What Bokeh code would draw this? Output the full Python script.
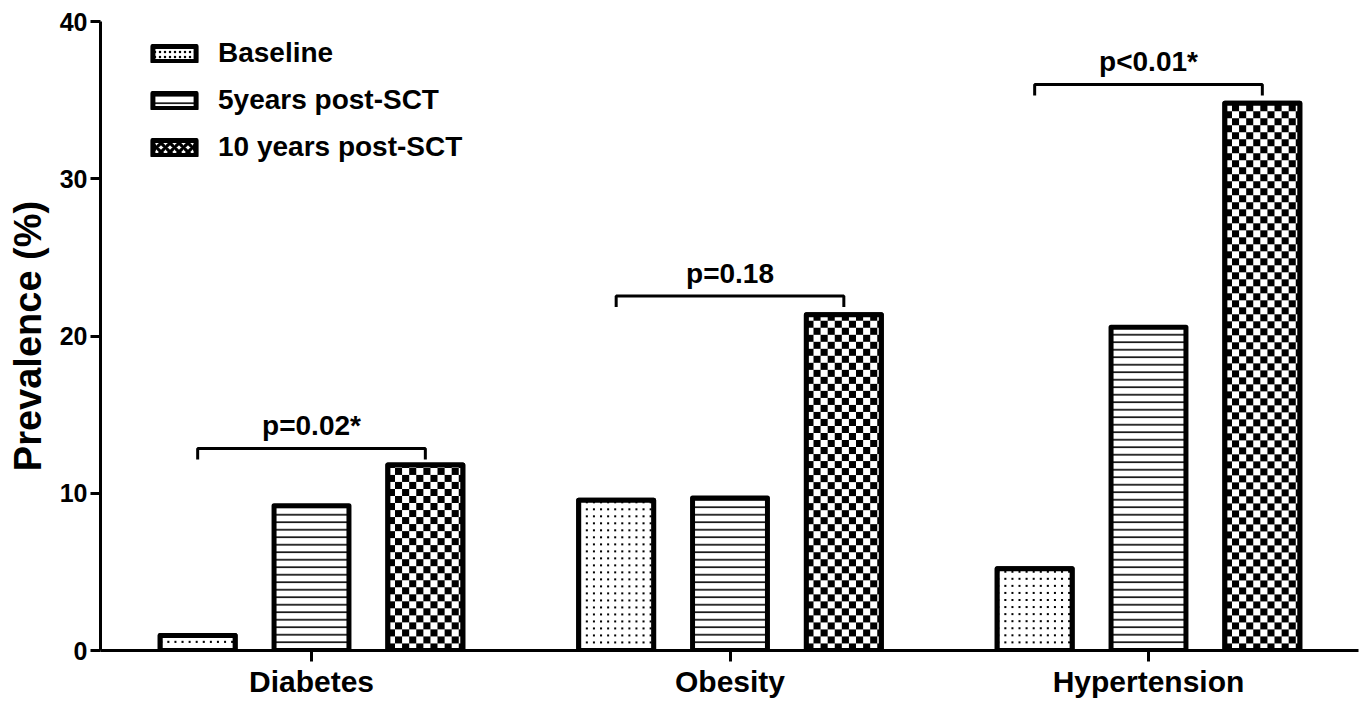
import numpy as np
from bokeh.plotting import figure
from bokeh.models import (Range1d, FixedTicker, Legend, LegendItem, ColumnDataSource)
from bokeh.core.properties import value
from bokeh.embed import file_html
from bokeh.resources import INLINE

# ---------------- data ----------------
categories = ["Diabetes", "Obesity", "Hypertension"]
series_names = ["Baseline", "5years post-SCT", "10 years post-SCT"]
baseline = [0.95, 9.55, 5.2]
five_years = [9.2, 9.7, 20.55]
ten_years = [11.8, 21.35, 34.8]
p_labels = ["p=0.02*", "p=0.18", "p<0.01*"]
bracket_y = [12.85, 22.55, 36.0]
y_ticks = [0, 10, 20, 30, 40]

# ---------------- layout ----------------
FONT = "Liberation Sans"
offset = 0.272
bar_w = 0.179
xc = [i + 1 for i in range(len(categories))]
X0, X1, Y0, Y1 = 0.4958, 3.5018, 0, 40
W, H = 1363, 702
BL, BR, BT, BB = 100, 5, 21, 52
px_x = (W - BL - BR) / (X1 - X0)   # screen px per x unit
px_y = (H - BT - BB) / (Y1 - Y0)   # screen px per y unit


def texture_image(val, kind):
    """pixel texture (1 array px ~ 1 screen px) filling one bar"""
    w = max(1, int(round(bar_w * px_x)))
    h = max(1, int(round(val * px_y)))
    yy, xx = np.mgrid[0:h, 0:w]
    if kind == "checker":
        black = ((xx // 7 + yy // 7) % 2 == 0)
    else:  # dots
        black = ((xx % 7) < 2) & ((yy % 7) < 2)
    return np.where(black, 0xFF000000, 0xFFFFFFFF).astype(np.uint32)


p = figure(width=W, height=H, output_backend="svg", toolbar_location=None,
           x_range=Range1d(X0, X1), y_range=Range1d(Y0, Y1),
           min_border_left=BL, min_border_right=BR, min_border_top=BT, min_border_bottom=BB)
p.outline_line_color = None
p.grid.visible = False
p.background_fill_color = "white"

common = dict(width=bar_w, bottom=0, line_color="black", line_width=5, line_join="round",
              hatch_color="black")

x_base = [x - offset for x in xc]
x_ten = [x + offset for x in xc]

# legend-source bars (fill + hatch), covered in the plot by the pixel textures
r1 = p.vbar(x=x_base, top=baseline, fill_color="white", hatch_pattern="dot",
            hatch_scale=5, hatch_weight=1, **common)
r2 = p.vbar(x=xc, top=five_years, fill_color="white", hatch_pattern="horizontal_line",
            hatch_scale=7.5, hatch_weight=1.6, **common)
r3 = p.vbar(x=x_ten, top=ten_years, fill_color="white", hatch_pattern="diagonal_cross",
            hatch_scale=9, hatch_weight=3.2, **common)

# pixel textures inside the bars
p.image_rgba(image=[texture_image(v, "dots") for v in baseline],
             x=[x - bar_w / 2 for x in x_base], y=[0] * 3, dw=[bar_w] * 3, dh=baseline)
p.image_rgba(image=[texture_image(v, "checker") for v in ten_years],
             x=[x - bar_w / 2 for x in x_ten], y=[0] * 3, dw=[bar_w] * 3, dh=ten_years)

# outlines on top
p.vbar(x=x_base, top=baseline, fill_color=None, **common)
p.vbar(x=x_ten, top=ten_years, fill_color=None, **common)

# brackets
drop = 0.7
xs, ys = [], []
for x, b in zip(xc, bracket_y):
    xs.append([x - offset, x - offset, x + offset, x + offset])
    ys.append([b - drop, b, b, b - drop])
p.multi_line(xs=xs, ys=ys, line_color="black", line_width=3)

src = ColumnDataSource(dict(x=xc, y=[b + 1.45 for b in bracket_y], t=p_labels))
p.text(x="x", y="y", text="t", source=src, text_font=value(FONT), text_font_style="bold",
       text_font_size="28px", text_align="center", text_baseline="middle", text_color="black")

# axes
xa = p.xaxis[0]
xa.ticker = FixedTicker(ticks=xc)
xa.major_label_overrides = {x: c for x, c in zip(xc, categories)}
xa.minor_tick_line_color = None
xa.major_tick_in = 0
xa.major_tick_out = 11
xa.major_tick_line_width = 3
xa.axis_line_width = 3
xa.major_label_standoff = 3
xa.major_label_text_font = FONT
xa.major_label_text_font_style = "bold"
xa.major_label_text_font_size = "30px"
xa.major_label_text_color = "black"

ya = p.yaxis[0]
ya.ticker = FixedTicker(ticks=y_ticks)
ya.minor_tick_line_color = None
ya.major_tick_in = 0
ya.major_tick_out = 10
ya.major_tick_line_width = 3
ya.axis_line_width = 3
ya.major_label_standoff = 3
ya.major_label_text_font = FONT
ya.major_label_text_font_style = "bold"
ya.major_label_text_font_size = "25px"
ya.major_label_text_color = "black"
ya.axis_label = "Prevalence (%)"
ya.axis_label_text_font = FONT
ya.axis_label_text_font_style = "bold"
ya.axis_label_text_font_size = "38px"
ya.axis_label_text_color = "black"
ya.axis_label_standoff = 8

legend = Legend(items=[LegendItem(label=series_names[0], renderers=[r1]),
                       LegendItem(label=series_names[1], renderers=[r2]),
                       LegendItem(label=series_names[2], renderers=[r3])],
                location=(47, 487), padding=0, margin=0, spacing=15,
                glyph_width=54, glyph_height=19, label_standoff=17,
                border_line_alpha=0, background_fill_alpha=0,
                label_text_font=FONT, label_text_font_style="bold",
                label_text_font_size="28px", label_text_color="black")
p.add_layout(legend)

open("out.html", "w").write(file_html(p, INLINE))
